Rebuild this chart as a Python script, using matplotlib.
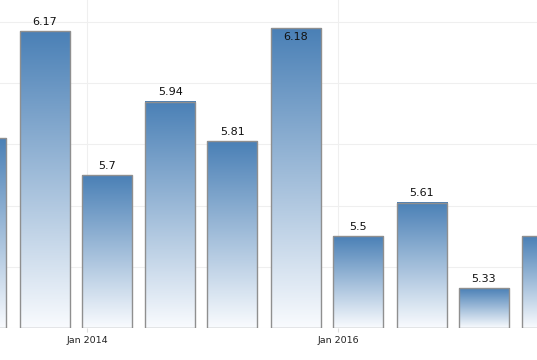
import numpy as np
import matplotlib
matplotlib.use("Agg")
import matplotlib.pyplot as plt
import matplotlib.dates as mdates
from matplotlib.colors import LinearSegmentedColormap
import datetime as dt

# ---- data ----
dates = ["2013-02-28", "2013-08-31", "2014-02-28", "2014-08-31", "2015-02-28",
         "2015-08-31", "2016-02-29", "2016-08-31", "2017-02-28", "2017-08-31"]
values = [5.82, 6.17, 5.70, 5.94, 5.81, 6.18, 5.50, 5.61, 5.33, 5.50]
tick_dates = ["2014-01-01", "2016-01-01"]
tick_labels = ["Jan 2014", "Jan 2016"]

W, H = 537, 360
fig = plt.figure(figsize=(W / 100, H / 100), dpi=100)
ax = fig.add_axes([0, 32 / H, 1, 1 - 32 / H])

xs = mdates.date2num([dt.date.fromisoformat(d) for d in dates])
tx = mdates.date2num([dt.date.fromisoformat(d) for d in tick_dates])

px_per_day = 251.0 / (tx[1] - tx[0])
xmin = tx[0] - 87 / px_per_day
xmax = xmin + W / px_per_day
ymin = 5.2
ymax = 5.2 + 328 / 306.0

width = 50 / px_per_day
cmap = LinearSegmentedColormap.from_list("g", ["#f9fbfe", "#4a80b6"])
grad = np.linspace(0, 1, 256).reshape(-1, 1)

vmax = max(values)
for x, v in zip(xs, values):
    ax.imshow(grad, extent=[x - width / 2, x + width / 2, ymin, v], origin="lower",
              cmap=cmap, aspect="auto", zorder=2, interpolation="bilinear")
    ax.add_patch(plt.Rectangle((x - width / 2, ymin), width, v - ymin, fill=False,
                               edgecolor="#8f8f8f", linewidth=1.0, zorder=3))
    if v >= vmax:
        ax.annotate(f"{v:g}", (x, v), xytext=(0, -2.5), textcoords="offset points",
                    ha="center", va="top", fontsize=8, color="#111111", zorder=4)
    else:
        ax.annotate(f"{v:g}", (x, v), xytext=(0, 3), textcoords="offset points",
                    ha="center", va="bottom", fontsize=8, color="#111111", zorder=4)

ax.set_xlim(xmin, xmax)
ax.set_ylim(ymin, ymax)
ax.set_yticks(np.arange(5.2, 6.21, 0.2))
ax.set_xticks(tx)
ax.set_xticklabels(tick_labels)
ax.grid(True, color="#efefef", linewidth=0.8, zorder=0)
ax.set_axisbelow(True)
for s in ax.spines.values():
    s.set_visible(False)
ax.tick_params(axis="y", left=False, labelleft=False)
ax.tick_params(axis="x", length=3, color="#dddddd", labelsize=6.8, labelcolor="#222222", pad=3)

fig.savefig("out.png", dpi=100)
